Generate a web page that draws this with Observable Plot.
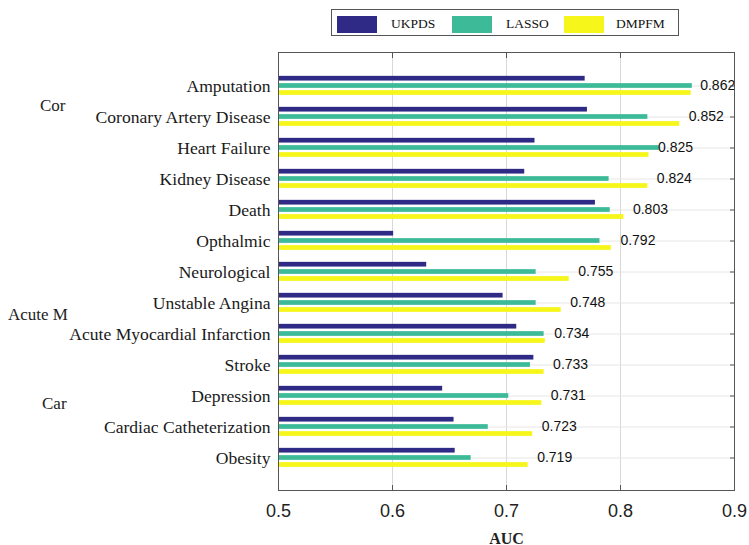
<!DOCTYPE html>
<html>
<head>
<meta charset="utf-8">
<script src="https://cdn.jsdelivr.net/npm/d3@7"></script>
<script src="https://cdn.jsdelivr.net/npm/@observablehq/plot@0.6"></script>
<style>
  body { margin: 0; background: #fff; }
  #wrap { position: relative; width: 749px; height: 545px; overflow: hidden; }
  .legend { position: absolute; left: 331px; top: 9px; width: 348px; height: 27px;
            border: 1px solid #555; background: #fff; box-sizing: border-box; }
  .legend .sw { position: absolute; top: 6px; width: 40px; height: 17px; }
  .legend .lb { position: absolute; top: 5px; font: 13.5px "Liberation Serif", serif; color: #111; line-height: 18px; }
  .groups span { position: absolute; white-space: nowrap; font: 17px "Liberation Serif", serif; color: #222; line-height: 20px; }
</style>
</head>
<body>
<div id="wrap">
  <div class="legend">
    <div class="sw" style="left:5px;background:#2f2a86"></div><div class="lb" style="left:59px">UKPDS</div>
    <div class="sw" style="left:120px;background:#3dbb99"></div><div class="lb" style="left:174px">LASSO</div>
    <div class="sw" style="left:232px;background:#f6f61a"></div><div class="lb" style="left:284px">DMPFM</div>
  </div>
  <div class="groups">
    <span style="left:40px;top:96px">Cor</span>
    <span style="left:8px;top:305px">Acute M</span>
    <span style="left:42px;top:394px">Car</span>
  </div>
</div>
<script>
// Outcomes, ordered top to bottom
const categories = [
  "Amputation", "Coronary Artery Disease", "Heart Failure", "Kidney Disease",
  "Death", "Opthalmic", "Neurological", "Unstable Angina",
  "Acute Myocardial Infarction", "Stroke", "Depression",
  "Cardiac Catheterization", "Obesity"
];

// AUC per model
const ukpds = [0.769, 0.771, 0.725, 0.716, 0.778, 0.601, 0.630, 0.697, 0.709, 0.724, 0.644, 0.654, 0.655];
const lasso = [0.863, 0.824, 0.834, 0.790, 0.791, 0.782, 0.726, 0.726, 0.733, 0.721, 0.702, 0.684, 0.669];
const dmpfm = [0.862, 0.852, 0.825, 0.824, 0.803, 0.792, 0.755, 0.748, 0.734, 0.733, 0.731, 0.723, 0.719];

const seriesNames = ["UKPDS", "LASSO", "DMPFM"];
const seriesColors = ["#2f2a86", "#3dbb99", "#f6f61a"];
const xTicks = [0.5, 0.6, 0.7, 0.8, 0.9];

const seriesValues = [ukpds, lasso, dmpfm];
const rows = seriesNames.map((s, k) =>
  categories.map((c, i) => ({category: c, series: s, value: seriesValues[k][i]}))
);

// three thin bars per outcome, stacked around the band centre
const barH = 5;
const offsets = [-7.3, 0, 7];
const bandStep = (490 - 52) / 14;
const inset = (bandStep - barH) / 2;

const bars = rows.map((data, k) =>
  Plot.barX(data, {
    x1: () => 0.5, x2: "value", y: "category",
    fill: seriesColors[k], dy: offsets[k],
    insetTop: inset, insetBottom: inset
  })
);

const chart = Plot.plot({
  width: 749,
  height: 545,
  marginTop: 52,
  marginBottom: 55,
  marginLeft: 278,
  marginRight: 15,
  style: {background: "transparent"},
  x: {domain: [0.5, 0.9]},
  y: {type: "band", domain: categories, paddingInner: 0, paddingOuter: 0.5},
  marks: [
    Plot.gridX([0.6, 0.7, 0.8], {stroke: "#d8d8d8", strokeOpacity: 1}),
    Plot.gridY(categories, {stroke: "#e6e6e6", strokeOpacity: 1}),
    ...bars,
    Plot.text(rows[2], {
      x: "value", y: "category", text: d => d3.format(".3f")(d.value),
      dx: 9, textAnchor: "start", fontSize: 14, fill: "#111",
      fontFamily: "Liberation Sans, Arial, sans-serif"
    }),
    Plot.axisY({anchor: "left", tickSize: 0, tickPadding: 8, label: null,
      fontSize: 17.6, fontFamily: "Liberation Serif, serif", fill: "#1a1a1a"}),
    Plot.axisY({anchor: "right", tickSize: -5, tickFormat: () => "", label: null, stroke: "#555"}),
    Plot.axisX({anchor: "top", ticks: xTicks, tickSize: -5, tickFormat: () => "", label: null, stroke: "#555"}),
    Plot.axisX({anchor: "bottom", ticks: xTicks, tickSize: -5, tickFormat: () => "", label: null, stroke: "#555"}),
    Plot.axisX({anchor: "bottom", ticks: xTicks, tickSize: 0, tickPadding: 14, label: null,
      tickFormat: d3.format(".1f"), fontSize: 18, fill: "#222",
      fontFamily: "Liberation Sans, Arial, sans-serif"}),
    Plot.text(["AUC"], {frameAnchor: "bottom", dy: 53, lineAnchor: "bottom",
      fontSize: 16, fontFamily: "Liberation Serif, serif", fill: "#222", fontWeight: 600}),
    Plot.frame({stroke: "#555"})
  ]
});

document.getElementById("wrap").prepend(chart);
</script>
</body>
</html>
